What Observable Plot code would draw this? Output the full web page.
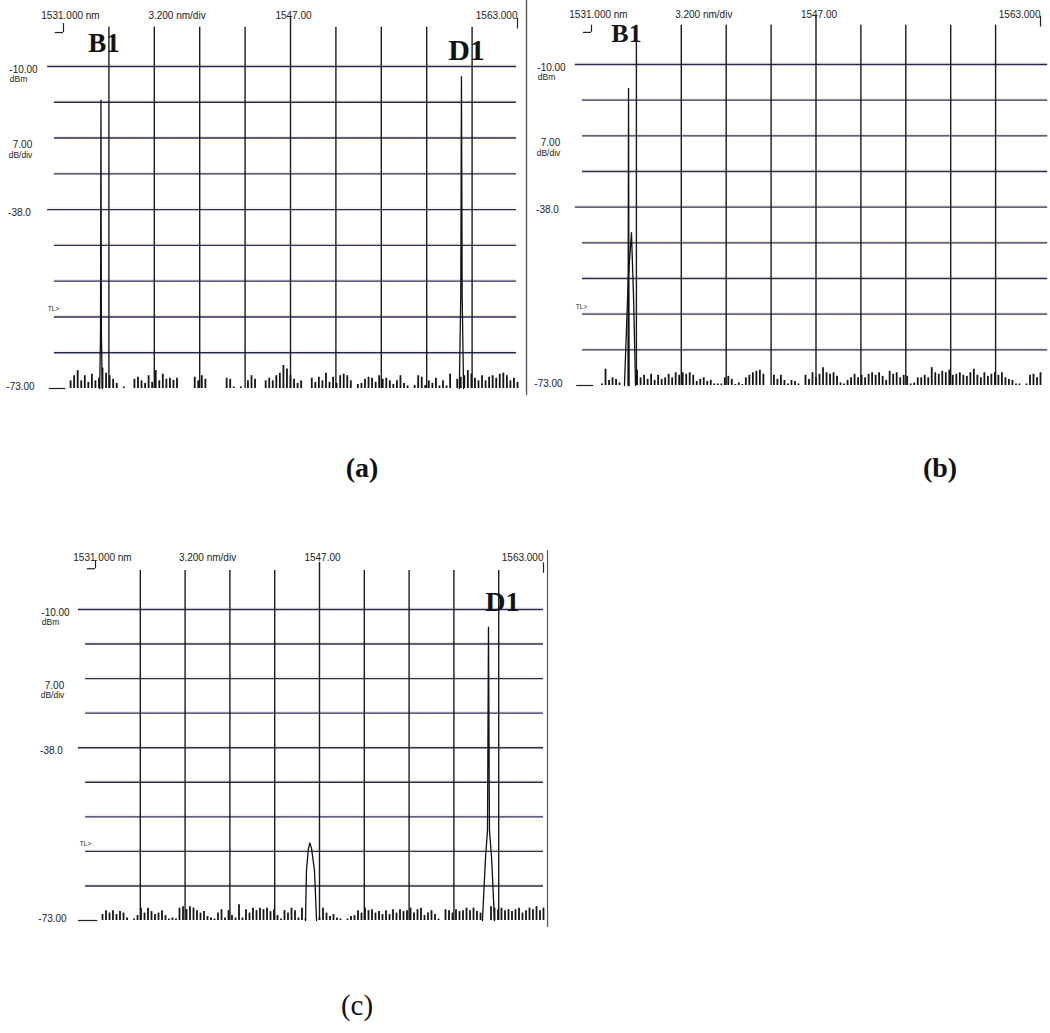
<!DOCTYPE html>
<html><head><meta charset="utf-8">
<script src="https://cdn.jsdelivr.net/npm/d3@7"></script>
<script src="https://cdn.jsdelivr.net/npm/@observablehq/plot@0.6"></script>
<style>
body{margin:0;background:#fff;}
#fig{position:relative;width:1050px;height:1033px;overflow:hidden;background:#fff}
.panel{position:absolute}
.panel svg{overflow:visible}
.cap{position:absolute;font-family:"Liberation Serif","DejaVu Serif",serif;color:#111;transform:translate(-50%,-50%);white-space:nowrap}
</style></head><body><div id="fig"></div>
<script>
// ---- instrument settings (tick labels) ----
const startNm = 1531, stopNm = 1563, centerNm = 1547, spanPerDiv = 3.2;
const refLevel = -10, dbPerDiv = 7, midLevel = -38, bottomLevel = -73, thresholdLevel = -57.5;
const gridNm = [1534.2, 1537.4, 1540.6, 1543.8, 1547.0, 1550.2, 1553.4, 1556.6, 1559.8];
const gridDb = [-10, -17, -24, -31, -38, -45, -52, -59, -66];
const panelNames = ["(a)", "(b)", "(c)"];

// ---- noise floor: height above -73 dBm (dB), one value every 0.25 nm from 1531 nm ----
const noiseStep = 0.25;
const noiseA = [0,0,1.5,2.5,3.5,1.5,2.5,1.2, 2.8,1.5,2.0,4.0,3.0,2.5,1.8,1.0,
  0,0.3,0,0,1.8,2.2,1.5,1.0, 2.5,1.2,3.5,1.5,2.8,1.8,2.0,1.6,
  2.0,0,0,0,0,2.2,1.5,2.5, 1.8,0,0,0,0,0,2.0,1.8,
  0.3,0,0.3,0,1.5,2.5,1.8,0, 0,1.5,2.0,1.5,2.5,3.0,4.5,3.8,
  2.5,1.8,1.0,1.5,0,0,2.0,1.2, 2.2,1.5,3.0,1.2,2.2,1.0,2.5,2.8,
  2.5,1.5,0,0.8,1.0,1.8,2.2,2.0, 1.2,2.5,1.8,2.0,1.5,0.8,1.5,2.5,
  1.0,0.5,0,0.6,2.5,2.2,0.6,1.5, 1.0,2.0,0.5,1.5,0.5,2.8,0,1.8,
  2.2,2.5,3.5,2.8,2.0,1.5,2.5,1.5, 2.2,2.5,2.0,2.8,3.0,2.5,1.5,2.0,1.2];
const noiseB = [0,0,0,0.3,3.2,1.0,1.5,1.2, 0.5,0,0,0,0,3.0,1.5,2.0,
  1.2,2.2,1.0,2.0,1.2,1.5,2.2,1.5, 2.5,2.0,2.5,2.2,2.5,2.0,0.8,1.2,
  1.5,0.8,1.0,0.3,0.3,0.3,1.5,1.8, 1.2,0.2,0.5,0.2,1.5,2.0,2.5,2.8,
  3.0,2.2,0,0,2.0,1.2,2.0,1.0, 0.3,1.0,0.8,0.3,0,2.0,1.2,2.5,
  1.5,2.2,3.5,2.5,2.2,2.5,1.8,0.5, 0.3,1.0,1.5,2.2,1.5,2.0,1.5,2.2,
  2.5,2.0,2.5,1.8,1.0,2.8,2.2,2.5, 1.5,2.0,1.8,0.3,0.5,1.5,1.5,2.0,
  1.5,3.5,2.5,2.2,2.8,2.5,3.0,2.0, 2.2,2.5,2.0,1.8,2.5,3.2,2.0,1.5,
  2.5,1.8,2.2,2.5,2.0,2.5,1.5,1.2, 1.0,0.3,0.3,0,0.3,2.0,2.2,1.5,2.5];
const noiseC = [0,0,1.2,2.0,1.5,2.0,1.2,1.8, 1.5,0.5,0,0.3,1.0,2.5,1.5,2.5,
  1.8,1.2,1.5,2.0,1.0,0.3,0.5,0.3, 2.5,2.8,2.2,2.8,2.5,2.0,1.5,1.8,
  0.8,0.5,0.3,1.5,2.2,0.5,2.0,1.0, 0.5,3.2,0.5,2.2,1.5,2.5,2.0,2.5,
  2.2,2.5,1.8,2.2,1.0,0.3,2.0,1.5, 2.5,2.0,0.5,2.5,0.3,0,0,0,
  0.5,2.5,1.5,0.8,1.2,0.5,0.3,0, 0.3,0.8,1.0,2.0,1.5,2.5,2.0,2.2,
  1.5,1.8,1.2,2.0,1.2,2.2,1.5,2.2, 1.8,2.0,2.5,1.5,2.2,2.5,1.0,1.5,
  2.0,1.2,0.3,0,2.2,2.0,1.5,2.2, 1.8,2.0,2.5,2.0,2.5,1.8,1.5,0,
  0,2.8,2.5,2.2,2.5,2.0,2.2,1.8, 2.2,2.5,1.5,2.0,2.5,2.2,2.8,2.0,2.5];

// ---- signal peaks (wavelength nm, level dBm) ----
const aB1Nm = [1533.55, 1533.61, 1533.64, 1533.67, 1533.73];
const aB1Db = [-73, -62, -16.6, -62, -73];
const aD1Nm = [1558.90, 1559.00, 1559.05, 1559.10, 1559.20];
const aD1Db = [-73, -55, -12.0, -55, -73];
const bB1SpikeNm = [1533.60, 1533.64, 1533.68];
const bB1SpikeDb = [-73, -14.7, -73];
const bB1BaseNm = [1533.35, 1533.62, 1533.85, 1534.00, 1534.14];
const bB1BaseDb = [-73, -52, -43, -56, -73];
const cMidNm = [1546.00, 1546.07, 1546.21, 1546.31, 1546.43, 1546.64, 1546.79];
const cMidDb = [-73, -62.8, -58.4, -57.3, -58.4, -62.8, -73];
const cD1Nm = [1558.64, 1558.86, 1559.00, 1559.07, 1559.14, 1559.29, 1559.50];
const cD1Db = [-73, -60.2, -54.7, -13.6, -54.7, -60.2, -73];
const labelsA = ["B1", "D1"], labelsANm = [1533.64, 1559.05];
const labelsB = ["B1"], labelsBNm = [1533.64];
const labelsC = ["D1"], labelsCNm = [1559.07];

const small = "'Liberation Sans Narrow','Arial Narrow','Liberation Sans',sans-serif";
const serif = "'Liberation Serif','Times New Roman',serif";

function panel(cfg) {
  const div = spanPerDiv, dv = dbPerDiv;
  const noiseData = cfg.noise.map((v, i) => ({nm: startNm + i * noiseStep, db: bottomLevel + v})).filter(d => d.db > bottomLevel);
  const peakData = cfg.peaks.flatMap((p, k) => p[0].map((x, j) => ({nm: x, db: p[1][j], k})));
  const hx1 = d => startNm - ((d === refLevel || d === midLevel) ? cfg.labExt : cfg.regExt) * div;
  const hx2 = stopNm + cfg.rightExt * div;
  const txt = {fontFamily: small, fontSize: 10, fill: "#222"};
  const marks = [
    Plot.ruleY(gridDb, {x1: hx1, x2: hx2, stroke: "#c8826a", strokeWidth: 0.7, strokeOpacity: 0.3, dy: -1.6}),
    Plot.ruleY(gridDb, {x1: hx1, x2: hx2, stroke: "#262b50", strokeWidth: 1.4}),
    Plot.ruleX(gridNm, {y1: bottomLevel, y2: d => refLevel + (d === centerNm ? cfg.cTop : cfg.vTop) * dv, stroke: "#1b1b1b", strokeWidth: 1.4}),
    Plot.ruleX([cfg.borderNm], {y1: bottomLevel - 0.2 * dv, y2: refLevel + cfg.borderTop * dv, stroke: "#555", strokeWidth: 1.2}),
    Plot.ruleY([bottomLevel], {x1: startNm - cfg.stub * div, x2: startNm + 0.05 * div, stroke: "#222", strokeWidth: 1.2}),
    Plot.ruleX([startNm], {y1: refLevel + cfg.mk[0] * dv, y2: refLevel + cfg.mk[1] * dv, stroke: "#222", strokeWidth: 1.2}),
    Plot.ruleY([refLevel + cfg.mk[0] * dv], {x1: startNm - 0.18 * div, x2: startNm, stroke: "#222", strokeWidth: 1.2}),
    Plot.ruleX([stopNm], {y1: refLevel + 1.05 * dv, y2: refLevel + 1.35 * dv, stroke: "#222", strokeWidth: 1.2}),
    Plot.ruleX(noiseData, {x: "nm", y1: bottomLevel, y2: "db", stroke: "#151515", strokeWidth: 1.8}),
    Plot.line(peakData, {x: "nm", y: "db", z: "k", stroke: "#111", strokeWidth: 1.3}),
    // top tick labels
    Plot.text([`${startNm.toFixed(3)} nm`], {x: startNm, y: refLevel, dy: cfg.topDy, dx: 7, ...txt}),
    Plot.text([`${spanPerDiv.toFixed(3)} nm/div`], {x: startNm + 2.5 * div, y: refLevel, dy: cfg.topDy, ...txt}),
    Plot.text([centerNm.toFixed(2)], {x: centerNm, y: refLevel, dy: cfg.topDy, dx: 3, ...txt}),
    Plot.text([stopNm.toFixed(3)], {x: stopNm, y: refLevel, dy: cfg.topDy, textAnchor: "end", ...txt}),
    // left level labels
    Plot.text([refLevel.toFixed(2)], {x: startNm, y: refLevel, dx: -40, dy: 3, ...txt}),
    Plot.text(["dBm"], {x: startNm, y: refLevel, dx: -45, dy: 13, ...txt, fontSize: 8.5}),
    Plot.text([dbPerDiv.toFixed(2)], {x: startNm, y: -24, dx: -41, dy: 7, ...txt}),
    Plot.text(["dB/div"], {x: startNm, y: -24, dx: -43, dy: 17, ...txt, fontSize: 8.5}),
    Plot.text([midLevel.toFixed(1)], {x: startNm, y: midLevel, dx: -44, dy: 3, ...txt}),
    Plot.text(["TL>"], {x: startNm, y: thresholdLevel, dx: -10, ...txt, fontSize: 6.5}),
    Plot.text([bottomLevel.toFixed(2)], {x: startNm, y: bottomLevel, dx: -43, dy: -2, ...txt})
  ];
  cfg.labels[0].forEach((t, i) => {
    const s = cfg.labelStyle[i];
    marks.push(Plot.text([t], {x: cfg.labels[1][i], y: refLevel, dx: s.dx, dy: s.dy, fontSize: s.fs,
      fontFamily: serif, fontWeight: "bold", fill: "#141414"}));
  });
  const svg = Plot.plot({
    width: cfg.w, height: cfg.h,
    marginLeft: cfg.ml, marginRight: cfg.mr, marginTop: cfg.mt, marginBottom: cfg.mb,
    x: {domain: [startNm, stopNm], axis: null},
    y: {domain: [bottomLevel, refLevel], axis: null},
    style: {background: "transparent", overflow: "visible"},
    marks
  });
  const holder = document.createElement("div");
  holder.className = "panel";
  holder.style.left = cfg.left + "px";
  holder.style.top = cfg.top + "px";
  holder.appendChild(svg);
  document.getElementById("fig").appendChild(holder);
}

panel({left: 0, top: 0, w: 528, h: 400, ml: 63, mr: 11, mt: 66, mb: 12,
  noise: noiseA, peaks: [[aB1Nm, aB1Db], [aD1Nm, aD1Db]],
  labels: [labelsA, labelsANm], labelStyle: [{dx: 3, dy: -23, fs: 27}, {dx: 5, dy: -16, fs: 30}],
  labExt: 0.35, regExt: 0.2, rightExt: -0.02, vTop: 1.1, cTop: 1.36, borderNm: stopNm + 0.2 * spanPerDiv, borderTop: 1.84,
  stub: 0.31, mk: [0.95, 1.2], topDy: -51});
panel({left: 525, top: 0, w: 525, h: 400, ml: 66, mr: 10, mt: 64, mb: 15,
  noise: noiseB, peaks: [[bB1SpikeNm, bB1SpikeDb], [bB1BaseNm, bB1BaseDb]],
  labels: [labelsB, labelsBNm], labelStyle: [{dx: -2, dy: -31, fs: 26}],
  labExt: 0.36, regExt: 0.2, rightExt: 0.16, vTop: 1.1, cTop: 1.38, borderNm: startNm - 1.45 * spanPerDiv, borderTop: 1.84,
  stub: 0.33, mk: [0.9, 1.1], topDy: -50});
panel({left: 30, top: 540, w: 525, h: 410, ml: 65, mr: 12, mt: 69, mb: 30,
  noise: noiseC, peaks: [[cMidNm, cMidDb], [cD1Nm, cD1Db]],
  labels: [labelsC, labelsCNm], labelStyle: [{dx: 14, dy: -7, fs: 28}],
  labExt: 0.38, regExt: 0.22, rightExt: 0, vTop: 1.13, cTop: 1.36, borderNm: stopNm + 0.09 * spanPerDiv, borderTop: 1.7,
  stub: 0.38, mk: [1.18, 1.42], topDy: -52});

const caps = [{t: panelNames[0], x: 362, y: 468, w: "bold"}, {t: panelNames[1], x: 940, y: 468, w: "bold"}, {t: panelNames[2], x: 357, y: 1005, w: "normal"}];
caps.forEach(c => {
  const d = document.createElement("div");
  d.className = "cap";
  d.textContent = c.t;
  d.style.left = c.x + "px"; d.style.top = c.y + "px";
  d.style.fontWeight = c.w;
  d.style.fontSize = (c.w === "bold" ? 28 : 29) + "px";
  document.getElementById("fig").appendChild(d);
});
</script></body></html>
